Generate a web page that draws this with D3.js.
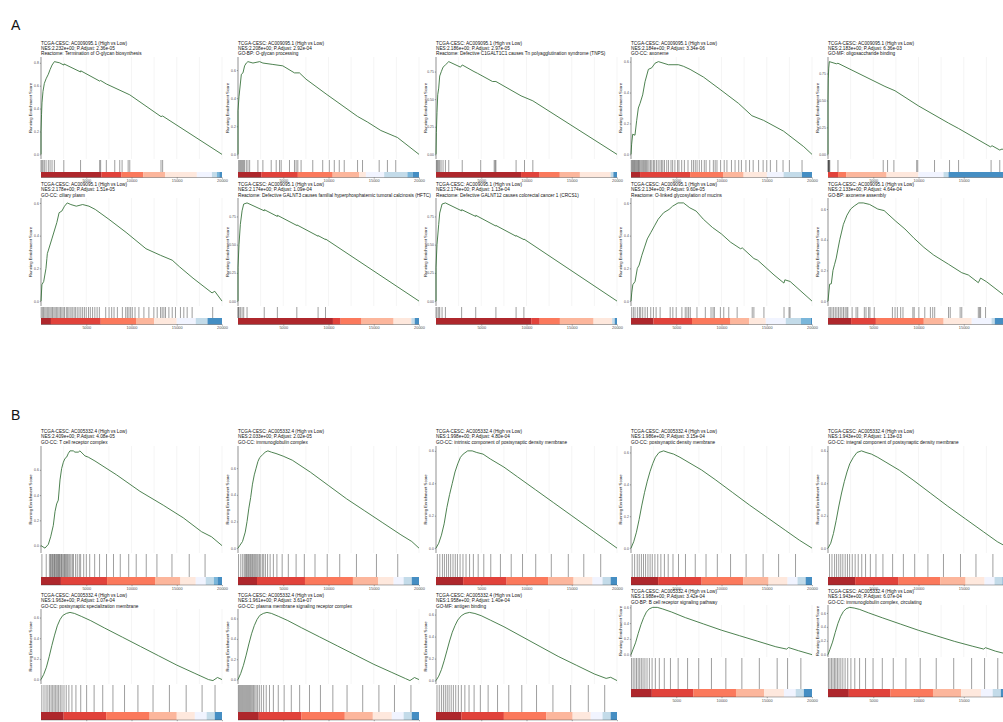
<!DOCTYPE html>
<html><head><meta charset="utf-8">
<script src="https://cdn.jsdelivr.net/npm/d3@7"></script>
<style>body{margin:0;background:#fff} svg{display:block} svg text{font-family:"Liberation Sans",Arial,sans-serif !important}</style>
</head><body><svg id="c" width="1003" height="722" font-family="Liberation Sans, Arial, sans-serif"></svg>
<script>
// ---------------- DATA ----------------
const palette = ["#A50F15","#DE2D26","#FB6A4A","#FCAE91","#FEE5D9","#EFF3FF","#BDD7E7","#6BAED6","#3182BD","#08519C"];
const xTicks = [5000,10000,15000,20000];
const geneLines = ["TCGA-CESC: AC009095.1 (High vs Low)","TCGA-CESC: AC005332.4 (High vs Low)"];
const nesValues = ["2.232e+00","2.208e+00","2.186e+00","2.184e+00","2.183e+00","2.178e+00","2.174e+00","2.174e+00","2.134e+00","2.133e+00",
                   "2.409e+00","2.033e+00","1.998e+00","1.986e+00","1.943e+00","1.963e+00","1.961e+00","1.958e+00","1.988e+00","1.943e+00"];
const padjValues = ["2.36e-05","2.92e-04","2.97e-05","3.34e-06","6.36e-03","1.51e-05","1.09e-04","1.13e-04","9.60e-05","4.64e-04",
                    "4.08e-05","2.02e-05","4.80e-04","3.15e-04","1.13e-03","1.07e-04","3.61e-07","1.40e-04","3.42e-04","6.07e-04"];
const termNames = ["Reactome: Termination of O-glycan biosynthesis","GO-BP: O-glycan processing",
  "Reactome: Defective C1GALT1C1 causes Tn polyagglutination syndrome (TNPS)","GO-CC: axoneme","GO-MF: oligosaccharide binding",
  "GO-CC: ciliary plasm","Reactome: Defective GALNT3 causes familial hyperphosphatemic tumoral calcinosis (HFTC)",
  "Reactome: Defective GALNT12 causes colorectal cancer 1 (CRCS1)","Reactome: O-linked glycosylation of mucins","GO-BP: axoneme assembly",
  "GO-CC: T cell receptor complex","GO-CC: immunoglobulin complex","GO-CC: intrinsic component of postsynaptic density membrane",
  "GO-CC: postsynaptic density membrane","GO-CC: integral component of postsynaptic density membrane",
  "GO-CC: postsynaptic specialization membrane","GO-CC: plasma membrane signaling receptor complex","GO-MF: antigen binding",
  "GO-BP: B cell receptor signaling pathway","GO-CC: immunoglobulin complex, circulating"];
const yStep = [0.2,0.2,0.25,0.2,0.25,0.2,0.25,0.25,0.2,0.2, 0.2,0.2,0.2,0.2,0.2,0.2,0.2,0.2,0.2,0.2];

// running enrichment score curves [rank, ES]
const es01 = [[0,0],[0,0.2],[60,0.35],[110,0.45],[220,0.55],[370,0.62],[560,0.66],[810,0.7],[1000,0.74],[1220,0.78],[1480,0.81],[2040,0.8],[2520,0.78],[2540,0.79],[4370,0.72],[4390,0.73],[6480,0.64],[6590,0.645],[7220,0.615],[9810,0.52],[13260,0.33],[13440,0.335],[20000,0]];
const es02 = [[0,0],[0,0.31],[110,0.41],[370,0.57],[550,0.58],[730,0.63],[920,0.65],[1100,0.66],[1650,0.65],[2390,0.66],[2750,0.65],[3850,0.64],[4950,0.63],[6240,0.58],[6790,0.58],[7520,0.535],[9730,0.43],[13210,0.27],[14310,0.23],[15780,0.17],[17250,0.13],[17620,0.12],[20000,0]];
const es03 = [[0,0],[40,0.2],[110,0.38],[190,0.54],[300,0.6],[410,0.71],[590,0.75],[780,0.79],[1040,0.81],[1410,0.84],[2710,0.79],[2900,0.81],[4200,0.75],[4570,0.735],[6240,0.66],[6620,0.66],[9400,0.53],[10700,0.485],[20000,0]];
const es04 = [[0,0],[70,0.066],[185,0.13],[440,0.124],[630,0.22],[810,0.3],[1000,0.33],[1290,0.385],[1550,0.47],[1920,0.55],[2290,0.56],[2660,0.59],[3030,0.6],[4130,0.58],[5240,0.58],[5790,0.57],[6530,0.55],[8010,0.5],[9850,0.42],[11880,0.33],[13360,0.25],[14650,0.22],[16860,0.15],[19080,0.05],[20000,0]];
const es05 = [[0,0],[0,0.5],[30,0.7],[80,0.8],[150,0.86],[925,0.84],[1100,0.845],[6290,0.63],[7400,0.59],[9990,0.45],[13320,0.29],[14430,0.24],[17950,0.07],[18130,0.08],[18980,0.04],[19240,0.05],[20000,0]];
const es06 = [[0,0],[100,0.1],[300,0.12],[550,0.2],[650,0.26],[700,0.29],[1200,0.38],[1750,0.48],[2000,0.54],[2300,0.55],[2600,0.58],[2900,0.6],[3300,0.59],[3900,0.58],[4600,0.59],[5300,0.58],[6000,0.56],[7500,0.5],[9400,0.42],[11600,0.32],[13200,0.28],[14500,0.25],[15300,0.21],[16800,0.14],[18900,0.05],[19200,0.06],[20000,0]];
const es07 = [[0,0],[0,0.3],[110,0.5],[260,0.68],[450,0.8],[630,0.86],[1000,0.87],[2900,0.8],[2910,0.81],[4350,0.75],[4360,0.76],[6500,0.67],[6510,0.675],[8850,0.575],[8860,0.58],[9670,0.545],[9680,0.55],[20000,0]];
const es08 = [[0,0],[0,0.3],[110,0.5],[300,0.68],[410,0.78],[670,0.86],[1040,0.87],[2830,0.8],[2840,0.81],[4390,0.75],[4400,0.76],[6610,0.665],[6620,0.67],[8840,0.575],[8850,0.58],[9710,0.545],[9720,0.55],[20000,0]];
const es09 = [[0,0],[80,0.05],[200,0.1],[450,0.12],[700,0.2],[900,0.22],[1200,0.28],[1500,0.33],[1800,0.38],[2200,0.42],[2600,0.46],[3000,0.5],[3600,0.54],[4200,0.56],[4600,0.58],[5200,0.6],[5800,0.6],[6500,0.57],[7200,0.55],[8000,0.5],[9000,0.45],[10000,0.41],[11000,0.36],[12100,0.32],[12300,0.325],[13580,0.26],[14000,0.25],[15800,0.16],[16900,0.11],[17000,0.13],[17580,0.12],[20000,0]];
const es10 = [[0,0],[180,0.11],[365,0.113],[550,0.2],[730,0.24],[910,0.28],[1100,0.34],[1300,0.4],[1500,0.45],[1700,0.5],[1900,0.53],[2100,0.56],[2500,0.6],[2900,0.62],[3400,0.64],[3900,0.64],[4600,0.63],[5500,0.6],[6200,0.59],[7500,0.52],[8500,0.47],[9500,0.41],[10600,0.35],[11680,0.3],[13320,0.24],[14780,0.185],[15510,0.17],[16610,0.12],[16860,0.15],[17520,0.126],[19345,0.043],[20000,0]];
const es11 = [[0,0],[440,-0.02],[810,0.01],[1070,0.07],[1360,0.16],[1550,0.27],[1730,0.33],[1910,0.36],[2100,0.52],[2280,0.61],[2470,0.66],[2650,0.69],[2830,0.7],[3020,0.73],[3200,0.75],[3570,0.75],[3750,0.74],[4120,0.74],[4300,0.75],[4860,0.71],[5230,0.7],[5960,0.67],[8350,0.56],[10930,0.43],[13510,0.32],[15720,0.22],[17740,0.11],[18840,0.07],[20000,0]];
const es12 = [[0,0],[200,0.02],[500,0.05],[800,0.12],[1000,0.2],[1200,0.3],[1400,0.38],[1600,0.48],[1800,0.55],[2000,0.6],[2200,0.65],[2400,0.68],[2700,0.7],[3000,0.72],[3300,0.73],[3700,0.72],[4200,0.71],[5000,0.69],[6000,0.66],[8000,0.57],[10000,0.47],[12000,0.37],[14000,0.28],[16000,0.19],[18000,0.1],[19200,0.05],[20000,0]];
const es13 = [[0,0],[300,0.03],[600,0.08],[900,0.15],[1200,0.25],[1500,0.33],[1800,0.4],[2100,0.47],[2400,0.52],[2700,0.56],[3000,0.58],[3500,0.6],[4000,0.6],[4500,0.59],[5200,0.58],[6000,0.55],[7500,0.5],[9000,0.44],[11000,0.36],[13000,0.28],[15000,0.2],[17000,0.12],[18500,0.06],[20000,0]];
const es14 = [[0,0],[300,0.04],[600,0.1],[900,0.18],[1200,0.27],[1500,0.35],[1800,0.42],[2100,0.48],[2400,0.53],[2700,0.57],[3100,0.6],[3600,0.61],[4100,0.6],[4700,0.59],[5400,0.57],[6300,0.54],[7800,0.49],[9300,0.43],[11200,0.35],[13100,0.27],[15100,0.19],[17100,0.11],[18600,0.05],[20000,0]];
const es15 = [[0,0],[300,0.03],[600,0.09],[900,0.17],[1200,0.26],[1500,0.34],[1800,0.41],[2100,0.47],[2400,0.52],[2800,0.56],[3200,0.59],[3700,0.6],[4200,0.59],[4800,0.58],[5500,0.56],[6400,0.53],[7900,0.48],[9400,0.42],[11300,0.34],[13200,0.26],[15200,0.18],[17200,0.1],[18700,0.04],[20000,0]];
const es16 = [[0,0],[300,0.05],[600,0.12],[900,0.22],[1200,0.33],[1500,0.43],[1800,0.52],[2100,0.58],[2400,0.62],[2800,0.64],[3200,0.65],[3700,0.64],[4500,0.61],[5500,0.57],[7000,0.5],[9000,0.41],[11000,0.32],[13000,0.23],[15000,0.14],[17000,0.06],[18500,0.0],[19000,-0.01],[19500,0.02],[20000,0]];
const es17 = [[0,0],[300,0.06],[600,0.14],[900,0.24],[1200,0.35],[1500,0.45],[1800,0.53],[2100,0.59],[2400,0.63],[2800,0.65],[3200,0.66],[3700,0.65],[4500,0.62],[5500,0.58],[7000,0.51],[9000,0.42],[11000,0.33],[13000,0.24],[15000,0.15],[17000,0.07],[18500,0.01],[19000,-0.01],[19500,0.02],[20000,0]];
const es18 = [[0,0],[300,0.04],[600,0.1],[900,0.18],[1200,0.27],[1500,0.36],[1800,0.44],[2100,0.5],[2400,0.55],[2800,0.59],[3200,0.61],[3700,0.62],[4300,0.61],[5000,0.59],[6000,0.55],[7500,0.49],[9500,0.4],[11500,0.31],[13500,0.22],[15500,0.14],[17500,0.06],[18800,0.02],[19300,0.03],[20000,0]];
const es19 = [[0,0],[200,0.06],[500,0.15],[800,0.27],[1100,0.38],[1400,0.47],[1700,0.54],[2000,0.58],[2400,0.6],[2900,0.6],[3500,0.58],[4500,0.54],[6000,0.47],[8000,0.39],[10000,0.31],[12000,0.24],[14000,0.17],[16000,0.1],[17200,0.07],[17400,0.09],[18500,0.05],[20000,0]];
const es20 = [[0,0],[200,0.07],[500,0.18],[800,0.32],[1100,0.45],[1400,0.55],[1700,0.62],[2000,0.66],[2400,0.68],[2900,0.67],[3500,0.65],[4500,0.6],[6000,0.53],[8000,0.44],[10000,0.35],[12000,0.27],[14000,0.19],[16000,0.12],[17200,0.08],[17400,0.1],[18500,0.05],[20000,0]];

// gene-set member ranks
const hits01 = [0,110,220,370,560,810,1000,1220,1480,2520,4370,6480,6590,7220,8150,8700,8960,9630,9810,13260,13440];
const hits02 = [70,180,290,400,510,620,730,920,1100,1285,2200,2750,3670,4220,4590,4770,5690,6240,6420,6610,6970,8260,9360,10090,10640,11190,11740,13210,13760,15600,16510,17430];
const hits03 = [40,110,190,300,410,560,780,1040,1410,2900,4940,6430,6540,6620,8850,9780,10700];
const hits04 = [30,120,200,290,380,470,560,650,740,830,920,1010,1130,1250,1370,1480,1600,1720,1850,1990,2150,2300,2480,2620,2810,3000,3200,3380,3520,3700,3950,4150,4420,4600,4850,5150,5300,5600,5900,6300,6700,6900,7100,7300,7550,7800,8100,8300,8700,9100,9300,9500,9900,10300,10600,11100,11500,11900,12200,12700,13100,13500,14100,14600,15000,15400,16100,16800,17500,18900];
const hits05 = [0,30,60,100,150,200,1100,6100,6580,7280,9800,9920,11770,13430,14430,18020,18980];
const hits06 = [20,150,280,420,560,700,850,990,1130,1270,1420,1560,1700,1850,2000,2150,2300,2450,2600,2800,2950,3100,3300,3450,3650,3800,4000,4200,4400,4600,4800,5000,5250,5450,5700,5950,6200,6450,7150,7520,7810,8070,8440,8990,9360,9540,9720,9910,10090,10390,10820,11370,11920,12470,12840,13210,13390,13580,13760,14130,14500,14860,15410,15780,16150,16700,18970];
const hits07 = [0,30,110,260,450,630,1000,2900,4350,6500,8850,9670];
const hits08 = [0,110,300,410,670,1040,2830,4390,6620,8850,9710];
const hits09 = [74,259,444,703,925,1073,1295,1554,1813,2183,2479,2775,3219,4329,4625,4995,5624,5994,6179,6364,6549,7289,8214,8843,9065,9213,9879,10249,10804,11729,13394,13579,14689,16909,17464,17575];
const hits10 = [110,255,438,620,803,985,1168,1350,1533,1715,1898,2080,2190,2665,3100,3285,4015,4200,4490,4635,5110,7118,7410,7665,8030,8285,9380,9525,10040,10695,11315,11570,11790,13320,13505,14600,14780,16610,16750,16860,17410];
const hits11 = [100,580,930,1050,1130,1240,1310,1420,1490,1580,1690,1770,1860,1930,2040,2110,2230,2290,2410,2520,2600,2710,2830,2920,3060,3180,3310,3470,3590,3820,4010,4230,4380,4720,5010,5380,5930,6470,7240,8010,8760,9690,10520,11630,12810,14470,16380,18130];
const hits12 = [60,310,520,690,810,930,1020,1140,1230,1350,1440,1560,1650,1770,1880,1990,2110,2230,2380,2510,2690,2840,3030,3270,3550,3910,4300,4880,5560,6420,7330,8510,9860,11240,13090,15300,17650];
const hits13 = [150,420,710,930,1170,1390,1620,1880,2130,2370,2660,2980,3320,3710,4130,4660,5280,6050,7120,8310,9560,11020,12740,14620,16330,18200];
const hits14 = [130,400,690,910,1150,1380,1610,1870,2110,2350,2640,2960,3300,3690,4110,4640,5250,6020,7100,8290,9540,11000,12720,14600,16310,18180];
const hits15 = [170,440,730,950,1190,1410,1640,1900,2150,2390,2680,3000,3340,3730,4150,4680,5300,6070,7140,8330,9580,11040,12760,14640,16350,18220];
const hits16 = [90,330,560,760,950,1120,1290,1450,1620,1780,1950,2130,2320,2540,2790,3080,3420,3860,4390,5040,5870,6820,7950,9230,10710,12380,14190,16040,17800,19230];
const hits17 = [40,140,250,360,470,580,690,800,910,1020,1130,1240,1350,1460,1580,1710,1850,2000,2170,2360,2580,2830,3120,3480,3910,4450,5100,5890,6810,7900,9110,10480,12050,13780,15570,17290,19110];
const hits18 = [110,360,600,820,1030,1240,1450,1680,1920,2180,2470,2800,3190,3650,4210,4900,5760,6800,8040,9480,11110,12920,14880,16830,18640];
const hits19 = [60,240,430,610,790,960,1140,1330,1540,1770,2030,2330,2690,3130,3680,4360,5210,6250,7480,8890,10480,12250,14180,16150,17300,18770];
const hits20 = [50,210,380,550,710,870,1040,1220,1420,1640,1890,2180,2530,2960,3490,4150,4980,6000,7210,8610,10190,11960,13890,15870,17300,18760];

// colour bar segments [end rank, palette index]
const bar01 = [[6670,0],[8890,1],[11300,2],[13700,3],[17220,4],[18890,5],[19440,6],[19700,7],[20000,8]];
const bar02 = [[2570,0],[6610,1],[10460,2],[13400,3],[14130,4],[16150,5],[18720,6],[19300,7],[20000,8]];
const bar03 = [[9400,0],[11450,1],[13680,2],[15900,3],[19300,4],[19600,6],[20000,8]];
const bar04 = [[1000,0],[6530,1],[10220,2],[12440,3],[15020,4],[16860,5],[18890,6],[20000,8]];
const bar05 = [[1110,1],[2035,2],[6475,3],[9990,4],[12765,5],[13320,6],[20000,8]];
const bar06 = [[1100,0],[6600,1],[10500,2],[12500,3],[15000,4],[17100,5],[18400,6],[20000,8]];
const bar07 = [[10490,0],[11340,1],[13650,2],[17190,3],[19160,4],[19530,6],[20000,8]];
const bar08 = [[10530,0],[11460,1],[13690,2],[17410,3],[19460,4],[19750,6],[20000,8]];
const bar09 = [[2480,0],[6740,1],[11000,2],[13040,3],[14900,4],[17100,5],[18780,6],[19870,7],[20000,8]];
const bar10 = [[2555,0],[5290,1],[10585,2],[12775,3],[15880,4],[18070,5],[18430,6],[20000,8]];
const bar11 = [[2200,0],[7300,1],[12600,2],[15400,3],[17100,4],[18200,5],[19100,6],[19500,7],[20000,8]];
const bar12 = [[2100,0],[7400,1],[12700,2],[15500,3],[17200,4],[18300,5],[19200,6],[20000,8]];
const bar13 = [[3000,0],[7800,1],[12400,2],[15200,3],[17300,4],[18400,5],[19300,6],[20000,8]];
const bar14 = [[3000,0],[7800,1],[12400,2],[15200,3],[17300,4],[18400,5],[19300,6],[20000,8]];
const bar15 = [[3000,0],[7800,1],[12400,2],[15200,3],[17300,4],[18400,5],[19300,6],[20000,8]];
const bar16 = [[2500,0],[7200,1],[12000,2],[15000,3],[17000,4],[18300,5],[19200,6],[20000,8]];
const bar17 = [[2300,0],[7000,1],[11800,2],[14900,3],[17000,4],[18300,5],[19200,6],[20000,8]];
const bar18 = [[2800,0],[7500,1],[12200,2],[15100,3],[17100,4],[18400,5],[19300,6],[20000,8]];
const bar19 = [[2300,0],[6900,1],[11600,2],[14700,3],[16900,4],[18200,5],[19100,6],[20000,8]];
const bar20 = [[2300,0],[6900,1],[11600,2],[14700,3],[16900,4],[18200,5],[19100,6],[20000,8]];

const curves = [es01,es02,es03,es04,es05,es06,es07,es08,es09,es10,es11,es12,es13,es14,es15,es16,es17,es18,es19,es20];
const hitSets = [hits01,hits02,hits03,hits04,hits05,hits06,hits07,hits08,hits09,hits10,hits11,hits12,hits13,hits14,hits15,hits16,hits17,hits18,hits19,hits20];
const bars = [bar01,bar02,bar03,bar04,bar05,bar06,bar07,bar08,bar09,bar10,bar11,bar12,bar13,bar14,bar15,bar16,bar17,bar18,bar19,bar20];

// ---------------- LAYOUT ----------------
const colX = [41,238,436,631,828];
const plotW = 181;
const rowBoxes = [
  {t:44.5, top:57, bot:159, bar:172, barEnd:177.5, lab:182},
  {t:186,  top:198, bot:306, bar:318, barEnd:324.5, lab:329.5},
  {t:433,  top:446, bot:553, bar:577, barEnd:585, lab:590},
  {t:597,  top:609, bot:684, bar:712, barEnd:720, lab:726},
  {t:593,  top:605, bot:657, bar:689, barEnd:697, lab:702}
];
const panelRow = [0,0,0,0,0,1,1,1,1,1,2,2,2,2,2,3,3,3,4,4];
const sectionLabels = [{t:"A", y:30},{t:"B", y:420}];
const FONT = "Liberation Sans, Arial, sans-serif";

const svg = d3.select("#c");
svg.append("rect").attr("width",1003).attr("height",722).attr("fill","#fff");
sectionLabels.forEach(s => svg.append("text").attr("x",11).attr("y",s.y).attr("font-size",14).attr("font-family",FONT).attr("fill","#111").text(s.t));

curves.forEach((curve, i) => {
  const L = rowBoxes[panelRow[i]];
  const x0 = colX[i % 5];
  const g = svg.append("g").attr("font-family", FONT);
  const x = d3.scaleLinear().domain([0,20000]).range([x0, x0 + plotW]);
  const ext = d3.extent(curve, d => d[1]);
  const r = ext[1] - ext[0];
  const y = d3.scaleLinear().domain([ext[0] - 0.05*r, ext[1] + 0.05*r]).range([L.bot, L.top]);

  // titles
  const lines = [geneLines[i < 10 ? 0 : 1], `NES:${nesValues[i]}; P.Adjust: ${padjValues[i]}`, termNames[i]];
  lines.forEach((s, k) => g.append("text").attr("x", x0).attr("y", L.t + k*5.3).attr("font-size", 4.7).attr("font-family", FONT).attr("fill","#111").text(s));

  // vertical grid
  g.selectAll("line.grid").data(d3.range(0, 20001, 2500)).join("line")
    .attr("x1", d => x(d)).attr("x2", d => x(d)).attr("y1", L.top).attr("y2", L.bot)
    .attr("stroke", "#ebebeb").attr("stroke-width", 0.5);

  // y axis
  const step = yStep[i];
  const dom = y.domain();
  const tv = d3.range(Math.ceil(dom[0]/step - 1e-9)*step, dom[1] + 1e-9, step).map(v => +v.toFixed(4));
  const fmt = step === 0.25 ? d3.format(".2f") : d3.format(".1f");
  const ya = g.append("g").attr("transform", `translate(${x0},0)`)
    .call(d3.axisLeft(y).tickValues(tv).tickFormat(fmt).tickSize(1.2).tickPadding(1));
  ya.attr("font-family", FONT);
  ya.select(".domain").attr("stroke", "#333").attr("stroke-width", 0.5).attr("d", `M0,${L.top}V${L.bot}`);
  ya.selectAll(".tick line").attr("stroke", "#333").attr("stroke-width", 0.4);
  ya.selectAll(".tick text").attr("font-size", 3.4).attr("fill", "#4d4d4d");
  g.append("text").attr("transform", `translate(${x0 - 9},${(L.top + L.bot)/2}) rotate(-90)`)
    .attr("text-anchor", "middle").attr("font-size", 4.2).attr("font-family", FONT).attr("fill", "#111").text("Running Enrichment Score");

  // ES curve
  g.append("path").datum(curve)
    .attr("d", d3.line().x(d => x(d[0])).y(d => y(d[1])))
    .attr("fill", "none").attr("stroke", "#2E6B32").attr("stroke-width", 0.85);

  // hit lines
  g.selectAll("line.hit").data(hitSets[i]).join("line")
    .attr("x1", d => x(d)).attr("x2", d => x(d)).attr("y1", L.bot + 1).attr("y2", L.bar)
    .attr("stroke", "#222").attr("stroke-width", 0.55).attr("stroke-opacity", 0.8);

  // colour bar
  let prev = 0;
  bars[i].forEach(([end, ci]) => {
    g.append("rect").attr("x", x(prev)).attr("width", x(end) - x(prev))
      .attr("y", L.bar).attr("height", L.barEnd - L.bar)
      .attr("fill", palette[ci]).attr("fill-opacity", 0.9);
    prev = end;
  });

  // x axis
  const xa = g.append("g").attr("transform", `translate(0,${L.barEnd})`)
    .call(d3.axisBottom(x).tickValues(xTicks).tickFormat(d3.format("d")).tickSize(1.2).tickPadding(1));
  xa.attr("font-family", FONT);
  xa.select(".domain").attr("stroke", "#333").attr("stroke-width", 0.4).attr("d", `M${x0},0H${x0+plotW}`);
  xa.selectAll(".tick line").attr("stroke", "#333").attr("stroke-width", 0.4);
  xa.selectAll(".tick text").attr("font-size", 3.9).attr("fill", "#4d4d4d");
});
</script></body></html>
